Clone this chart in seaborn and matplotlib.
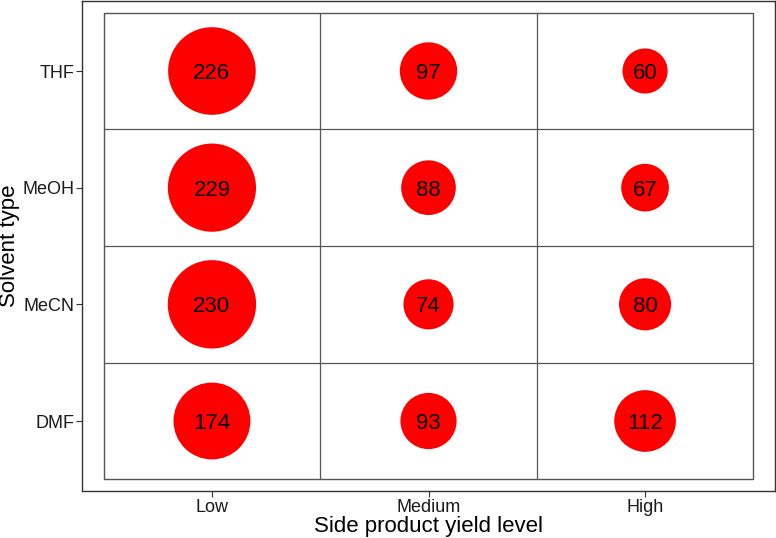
import matplotlib
matplotlib.use("Agg")
import matplotlib.pyplot as plt
import seaborn as sns
import pandas as pd

yield_levels = ["Low", "Medium", "High"]
solvents = ["DMF", "MeCN", "MeOH", "THF"]
low_vals = [174, 230, 229, 226]
medium_vals = [93, 74, 88, 97]
high_vals = [112, 80, 67, 60]

rows = []
for lvl, vals in zip(yield_levels, [low_vals, medium_vals, high_vals]):
    for s, v in zip(solvents, vals):
        rows.append({"level": lvl, "solvent": s, "count": v})
df = pd.DataFrame(rows)
df["x"] = df["level"].map({l: i for i, l in enumerate(yield_levels)})
df["y"] = df["solvent"].map({s: i for i, s in enumerate(solvents)})

sns.set_style("white")
plt.rcParams["font.family"] = ["Liberation Sans", "DejaVu Sans"]

fig = plt.figure(figsize=(7.76, 5.38), dpi=100)
ax = fig.add_axes([82 / 776, 1 - 491 / 538, 693 / 776, 490 / 538])

vmax = df["count"].max()
k = 17.6
sns.scatterplot(data=df, x="x", y="y", size="count", sizes=(0, k * vmax),
                size_norm=(0, vmax), color="#FF0000", linewidth=0,
                legend=False, ax=ax, zorder=3)

for _, r in df.iterrows():
    ax.text(r["x"], r["y"], str(r["count"]), ha="center", va="center_baseline",
            fontsize=16, color="black", zorder=4)

# inner grid
grid_c = "#555555"
for xv in [0.5, 1.5]:
    ax.plot([xv, xv], [-0.5, 3.5], color=grid_c, lw=0.9, zorder=1)
for yv in [0.5, 1.5, 2.5]:
    ax.plot([-0.5, 2.5], [yv, yv], color=grid_c, lw=0.9, zorder=1)
ax.plot([-0.5, 2.5, 2.5, -0.5, -0.5], [-0.5, -0.5, 3.5, 3.5, -0.5],
        color=grid_c, lw=1.0, zorder=1)

ax.set_xlim(-0.6, 2.6)
ax.set_ylim(-0.6, 3.6)
ax.set_xticks(range(len(yield_levels)))
ax.set_xticklabels(yield_levels)
ax.set_yticks(range(len(solvents)))
ax.set_yticklabels(solvents)
ax.tick_params(axis="both", labelsize=13, length=4, width=0.8, pad=1.5,
               colors="#333333", labelcolor="#1a1a1a", bottom=True, left=True)
for sp in ax.spines.values():
    sp.set_color("#333333")
    sp.set_linewidth(1.0)
    sp.set_visible(True)

ax.set_xlabel("Side product yield level", fontsize=16, color="black", labelpad=0)
ax.set_ylabel("Solvent type", fontsize=16, color="black", labelpad=2)

fig.savefig("out.png", dpi=100)
